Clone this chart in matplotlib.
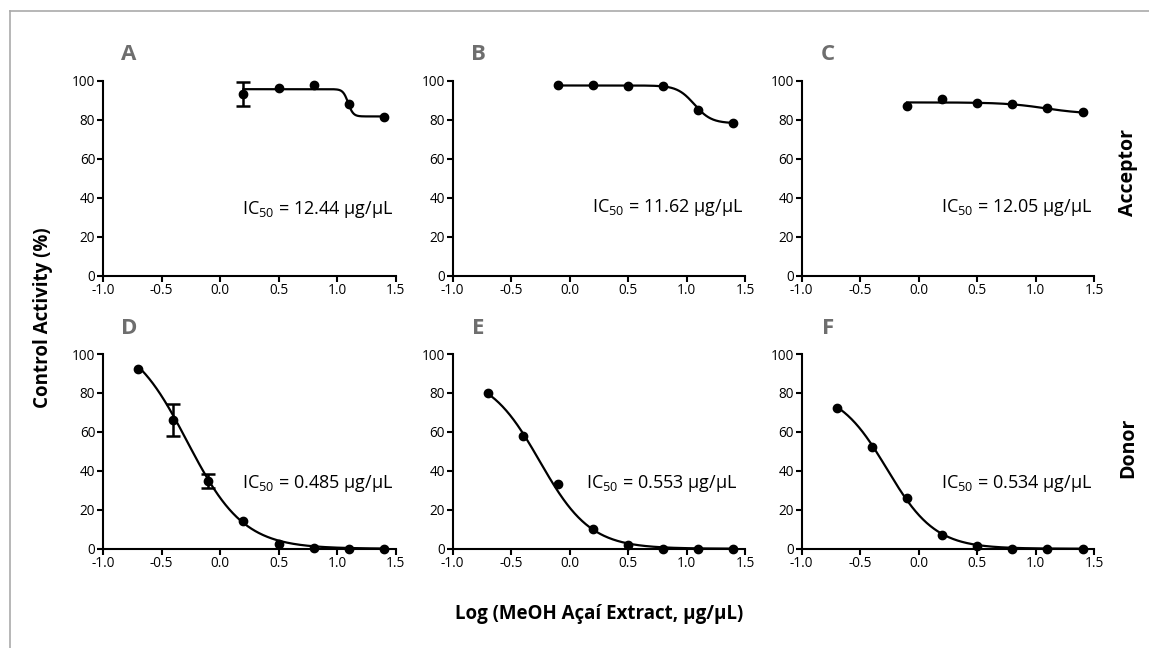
import numpy as np
import matplotlib
matplotlib.use("Agg")
import matplotlib.pyplot as plt
from matplotlib.lines import Line2D

plt.rcParams['font.family'] = ['Open Sans', 'DejaVu Sans']
plt.rcParams['axes.unicode_minus'] = False
plt.rcParams['mathtext.default'] = 'regular'

# ---------------- data ----------------
panel_letters = ["A", "B", "C", "D", "E", "F"]

x_A = [0.2, 0.5, 0.8, 1.1, 1.4]
y_A = [93.3, 96.2, 97.8, 88.2, 81.7]
e_A = [6.3, 0, 0, 0, 0]

x_B = [-0.1, 0.2, 0.5, 0.8, 1.1, 1.4]
y_B = [97.8, 97.9, 97.6, 97.6, 85.1, 78.6]
e_B = [0, 0, 0, 0, 0, 0]

x_C = [-0.1, 0.2, 0.5, 0.8, 1.1, 1.4]
y_C = [87.3, 90.8, 88.6, 88.3, 86.0, 84.2]
e_C = [0, 0, 0, 0, 0, 0]

x_D = [-0.7, -0.4, -0.1, 0.2, 0.5, 0.8, 1.1, 1.4]
y_D = [92.4, 65.9, 34.8, 14.2, 2.4, 0.2, 0.0, 0.0]
e_D = [0, 8.2, 3.4, 0, 0, 0, 0, 0]

x_E = [-0.7, -0.4, -0.1, 0.2, 0.5, 0.8, 1.1, 1.4]
y_E = [80.0, 57.9, 33.2, 10.3, 1.7, 0.0, 0.0, 0.0]
e_E = [0, 0, 0, 0, 0, 0, 0, 0]

x_F = [-0.7, -0.4, -0.1, 0.2, 0.5, 0.8, 1.1, 1.4]
y_F = [72.4, 52.4, 26.2, 7.0, 1.4, 0.0, 0.0, 0.0]
e_F = [0, 0, 0, 0, 0, 0, 0, 0]

# fitted dose-response curve parameters: top, bottom, logIC50, hill slope
fit_A = (95.8, 81.8, 1.095, 20.0)
fit_B = (97.7, 78.3, 1.065, 6.0)
fit_C = (89.0, 83.0, 1.081, 2.5)
fit_D = (110.0, 0.0, -0.28, 1.8)
fit_E = (90.0, 0.0, -0.257, 2.0)
fit_F = (82.0, 0.0, -0.272, 2.1)

ic50_labels = ["12.44", "11.62", "12.05", "0.485", "0.553", "0.534"]
ic50_xpos = [1.483, 1.483, 1.486, 1.483, 1.43, 1.486]
ic50_ypos = [34.1, 34.8, 34.8, 33.6, 33.6, 33.6]

row_labels = ["Acceptor", "Donor"]
xticks = [-1.0, -0.5, 0.0, 0.5, 1.0, 1.5]
yticks = [0, 20, 40, 60, 80, 100]

xs = [x_A, x_B, x_C, x_D, x_E, x_F]
ys = [y_A, y_B, y_C, y_D, y_E, y_F]
es = [e_A, e_B, e_C, e_D, e_E, e_F]
fits = [fit_A, fit_B, fit_C, fit_D, fit_E, fit_F]

# ---------------- figure ----------------
W, H = 1149, 648
fig = plt.figure(figsize=(W / 100, H / 100), dpi=100)

lefts = [103, 452.7, 801.7]
tops = [81, 354]
aw, ah = 292.5, 194.7

axes = []
for r in range(2):
    for c in range(3):
        ax = fig.add_axes([lefts[c] / W, 1 - (tops[r] + ah) / H, aw / W, ah / H])
        axes.append(ax)

for i, ax in enumerate(axes):
    x = np.array(xs[i]); y = np.array(ys[i]); e = np.array(es[i])
    top, bot, c50, h = fits[i]
    xx = np.linspace(x.min(), x.max(), 400)
    yy = bot + (top - bot) / (1 + 10 ** (h * (xx - c50)))
    ax.plot(xx, yy, color='black', lw=1.6, zorder=2, clip_on=False)
    mask = e > 0
    if mask.any():
        ax.errorbar(x[mask], y[mask], yerr=e[mask], fmt='none', ecolor='black',
                    elinewidth=1.8, capsize=5, capthick=1.8, zorder=3, clip_on=False)
    ax.plot(x, y, 'o', color='black', ms=6, zorder=4, clip_on=False)

    ax.set_xlim(-1.0, 1.5)
    ax.set_ylim(0, 100)
    ax.set_xticks(xticks)
    ax.set_xticklabels([f"{t:.1f}" for t in xticks])
    ax.set_yticks(yticks)
    ax.set_yticklabels([str(t) for t in yticks])
    for s in ['top', 'right']:
        ax.spines[s].set_visible(False)
    for s in ['left', 'bottom']:
        ax.spines[s].set_linewidth(1.5)
        ax.spines[s].set_color('black')
    ax.tick_params(direction='out', length=4, width=1.5, labelsize=9.8, pad=1.5, colors='black')
    ax.patch.set_alpha(0)

    ax.text(ic50_xpos[i], ic50_ypos[i], r"IC$_{50}$ = " + ic50_labels[i] + " µg/µL",
            ha='right', va='center', fontsize=13, color='black')
    ax.text(26 / aw, 1 + 26 / ah, panel_letters[i], transform=ax.transAxes,
            ha='center', va='center', fontsize=16, fontweight='bold', color='#6e6e6e')

fig.text(43.5 / W, 1 - 318 / H, "Control Activity (%)", rotation=90, ha='center', va='center',
         fontsize=13.5, fontweight='bold')
fig.text(599 / W, 1 - 614 / H, "Log (MeOH Açaí Extract, µg/µL)", ha='center', va='center',
         fontsize=13.5, fontweight='bold')
fig.text(1128 / W, 1 - 172 / H, row_labels[0], rotation=90, ha='center', va='center',
         fontsize=14, fontweight='bold')
fig.text(1128 / W, 1 - 448 / H, row_labels[1], rotation=90, ha='center', va='center',
         fontsize=14, fontweight='bold')

# light frame (top and left)
fig.add_artist(Line2D([9.5 / W, 1], [1 - 10.5 / H, 1 - 10.5 / H], transform=fig.transFigure,
                      color='#aaaaaa', lw=1.2))
fig.add_artist(Line2D([9.5 / W, 9.5 / W], [0, 1 - 10.5 / H], transform=fig.transFigure,
                      color='#aaaaaa', lw=1.2))

fig.savefig("out.png", dpi=100)
